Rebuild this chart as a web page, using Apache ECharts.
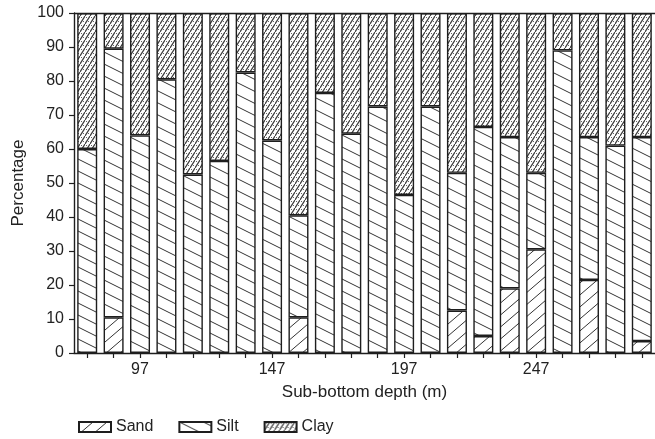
<!DOCTYPE html>
<html><head><meta charset="utf-8">
<script src="https://cdn.jsdelivr.net/npm/echarts@6/dist/echarts.min.js"></script>
<style>html,body{margin:0;padding:0;background:#fff}#c{width:655px;height:439px}</style>
</head><body><div id="c"></div>
<script>
// Sub-bottom depth categories (m)
const depths = ['77','87','97','107','117','127','137','147','157','167','177','187','197','207','217','227','237','247','257','267','277','287'];
// Percentages
const sand = [0, 10.5, 0, 0, 0, 0, 0, 0, 10.5, 0, 0, 0, 0, 0, 12.5, 5, 19, 30.5, 0, 21.5, 0, 3.5];
const silt = [60, 79, 64, 80.5, 52.5, 56.5, 82.5, 62.5, 30, 76.5, 64.5, 72.5, 46.5, 72.5, 40.5, 61.5, 44.5, 22.5, 89, 42, 61, 60];
const clay = [40, 10.5, 36, 19.5, 47.5, 43.5, 17.5, 37.5, 59.5, 23.5, 35.5, 27.5, 53.5, 27.5, 47, 33.5, 36.5, 47, 11, 36.5, 39, 36.5];
const shownLabels = ['97','147','197','247'];

function tile(w, h, draw) {
  const c = document.createElement('canvas');
  c.width = w; c.height = h;
  const g = c.getContext('2d');
  g.fillStyle = '#fff'; g.fillRect(0, 0, w, h);
  draw(g, w, h);
  return c;
}
function lines(g, segs, color, width) {
  g.strokeStyle = color; g.lineWidth = width; g.beginPath();
  segs.forEach(s => { g.moveTo(s[0], s[1]); g.lineTo(s[2], s[3]); });
  g.stroke();
}
const siltTile = tile(24, 12, (g, w, h) => {
  lines(g, [[0, 0, w, h], [0, -h, w, 0], [0, h, w, 2 * h]], '#333', 1);
});
const sandTile = tile(14, 12, (g, w, h) => {
  lines(g, [[0, h, w, 0], [0, 0, w, -h], [0, 2 * h, w, h]], '#333', 1);
});
const clayTile = tile(5, 8, (g, w, h) => {
  lines(g, [[0, h, w, 0], [0, 0, w, -h], [0, 2 * h, w, h]], '#3c3c3c', 1.2);
  g.fillStyle = '#666'; g.fillRect(1, 1, 1, 1); g.fillRect(3, 5, 1, 1);
});

const font = '"Liberation Sans", Arial, sans-serif';
const border = { borderColor: '#1e1e1e', borderWidth: 1.4 };
function series(name, data, pat, extra) {
  return Object.assign({
    name, type: 'bar', stack: 'all', barWidth: 20,
    data: data.map(v => v === 0 ? '-' : v),
    itemStyle: Object.assign({ color: { image: pat, repeat: 'repeat' } }, border),
    emphasis: { disabled: true }
  }, extra || {});
}

const chart = echarts.init(document.getElementById('c'), null, { renderer: 'canvas' });
chart.setOption({
  animation: false,
  backgroundColor: '#fff',
  textStyle: { fontFamily: font },
  grid: { left: 74, top: 13, width: 581, bottom: 86 },
  legend: {
    left: 73, top: 414, itemWidth: 32, itemHeight: 10, itemGap: 25,
    icon: 'rect',
    textStyle: { fontFamily: font, fontSize: 16, color: '#222' },
    data: ['Sand', 'Silt', 'Clay']
  },
  xAxis: {
    type: 'category', data: depths,
    name: 'Sub-bottom depth (m)', nameLocation: 'middle', nameGap: 31,
    nameTextStyle: { fontFamily: font, fontSize: 17, color: '#222' },
    axisLine: { lineStyle: { color: '#1e1e1e', width: 1.4 } },
    axisTick: { show: true, interval: 0, alignWithLabel: true, length: 5, lineStyle: { color: '#1e1e1e', width: 1.2 } },
    axisLabel: {
      interval: 0, margin: 9, fontFamily: font, fontSize: 16, color: '#222',
      formatter: v => shownLabels.indexOf(v) >= 0 ? v : ''
    }
  },
  yAxis: {
    type: 'value', min: 0, max: 100, interval: 10,
    name: 'Percentage', nameLocation: 'middle', nameGap: 42, nameRotate: 90,
    nameTextStyle: { fontFamily: font, fontSize: 17, color: '#222' },
    axisLine: { show: true, lineStyle: { color: '#1e1e1e', width: 1.4 } },
    axisTick: { show: true, length: 5, lineStyle: { color: '#1e1e1e', width: 1.2 } },
    axisLabel: { margin: 10, fontFamily: font, fontSize: 16, color: '#222' },
    splitLine: { show: false }
  },
  series: [
    series('Sand', sand, sandTile),
    series('Silt', silt, siltTile),
    series('Clay', clay, clayTile, {
      markLine: {
        silent: true, symbol: 'none', label: { show: false },
        lineStyle: { color: '#1e1e1e', type: 'solid', width: 1.4 },
        data: [{ yAxis: 100 }]
      }
    })
  ]
});
</script></body></html>
